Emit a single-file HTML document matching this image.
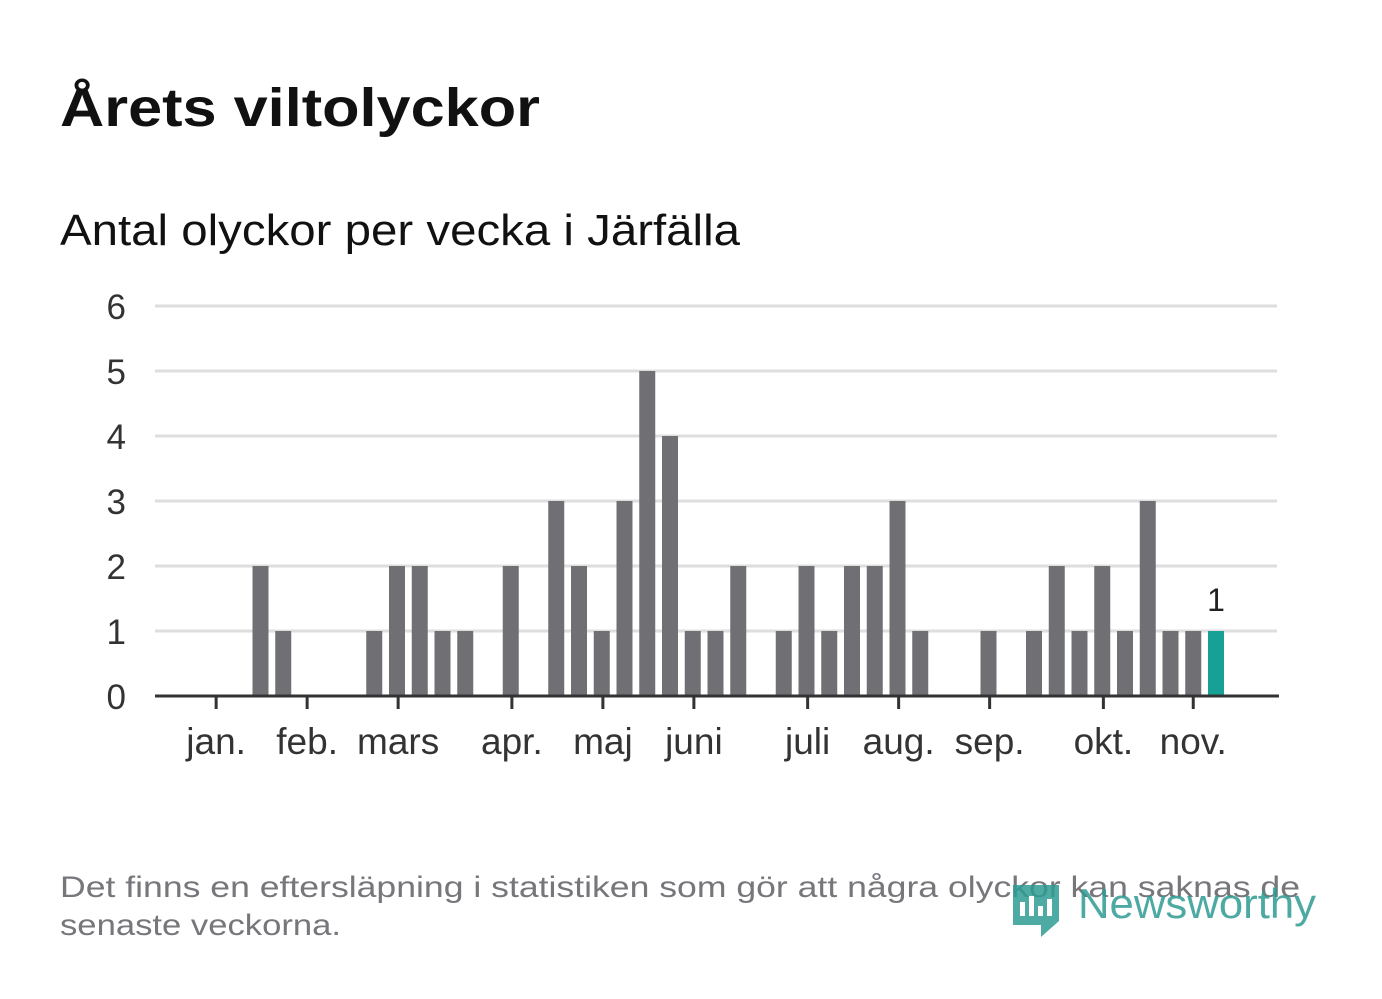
<!DOCTYPE html>
<html><head><meta charset="utf-8"><style>
body{margin:0;background:#fff;width:1382px;height:999px;overflow:hidden;font-family:"Liberation Sans",sans-serif;}
svg{display:block}
</style></head><body>
<svg width="1382" height="999">
<text x="60" y="126" font-size="54" font-weight="bold" fill="#111" textLength="480" lengthAdjust="spacingAndGlyphs">Årets viltolyckor</text>
<text x="60" y="245" font-size="44" fill="#111" textLength="680" lengthAdjust="spacingAndGlyphs">Antal olyckor per vecka i Järfälla</text>
<g id="grid"></g><g id="bars"></g><g id="xaxis"></g>
<text x="60" y="897" font-size="30" fill="#76767b" textLength="1240" lengthAdjust="spacingAndGlyphs">Det finns en eftersläpning i statistiken som gör att några olyckor kan saknas de</text>
<text x="60" y="935" font-size="30" fill="#76767b" textLength="281" lengthAdjust="spacingAndGlyphs">senaste veckorna.</text>
<g>
<path d="M1013 885 h46 v36 l-18 16 v-12 h-28 z" fill="#2e9c94" opacity="0.85"/>
<rect x="1020" y="902" width="5" height="14" fill="#fff"/><rect x="1029" y="896" width="5" height="20" fill="#fff"/><rect x="1038" y="906" width="5" height="10" fill="#fff"/><rect x="1047" y="899" width="5" height="17" fill="#fff"/>
<text x="1078" y="918" font-size="42" fill="#2e9c94" opacity="0.85" textLength="238" lengthAdjust="spacingAndGlyphs">Newsworthy</text>
</g>
</svg>
<script>
const weeks=[3,4,8,9,10,11,12,14,16,17,18,19,20,21,22,23,24,26,27,28,29,30,31,32,35,37,38,39,40,41,42,43,44,45];
const values=[2,1,1,2,2,1,1,2,3,2,1,3,5,4,1,1,2,1,2,1,2,2,3,1,1,1,2,1,2,1,3,1,1,1];
const yTicks=[0,1,2,3,4,5,6];
const months=["jan.","feb.","mars","apr.","maj","juni","juli","aug.","sep.","okt.","nov."];
const monthWeek=[1.05,5.05,9.05,14.05,18.05,22.05,27.05,31.05,35.05,40.05,44.0];
const NS="http://www.w3.org/2000/svg";
const x=w=>1216-(45-w)*22.75;
const y=v=>696-v*65;
function mk(t,a,p){const e=document.createElementNS(NS,t);for(const k in a)e.setAttribute(k,a[k]);p.appendChild(e);return e;}
const g=document.getElementById('grid'),b=document.getElementById('bars'),xa=document.getElementById('xaxis');
yTicks.forEach(v=>{
 if(v>0){const l=mk('line',{x1:155,x2:1277,y1:y(v),y2:y(v),stroke:'#dedede','stroke-width':3},g);
 
 }
 const t=mk('text',{x:126,y:y(v)+13,'font-size':35,fill:'#333','text-anchor':'end'},g);t.textContent=v;
 
 
});
weeks.forEach((w,i)=>{
 const last=i===weeks.length-1;
 const r=mk('rect',{x:x(w)-8,y:y(values[i]),width:16,height:values[i]*65,fill:last?'#16a096':'#706f74'},b);
 
 
 if(last){const t=mk('text',{x:x(w),y:y(values[i])-20,'font-size':32,fill:'#222','text-anchor':'middle'},b);t.textContent=values[i];
 
 }
});
const ax=mk('line',{x1:155,x2:1279,y1:696,y2:696,stroke:'#333','stroke-width':3},xa);


months.forEach((m,i)=>{
 const xx=x(monthWeek[i]);
 const tk=mk('line',{x1:xx,x2:xx,y1:696,y2:709,stroke:'#333','stroke-width':3},xa);
 
 
 const t=mk('text',{x:xx,y:754,'font-size':37,fill:'#333','text-anchor':'middle'},xa);t.textContent=m;
 
 
});
</script>
</body></html>
